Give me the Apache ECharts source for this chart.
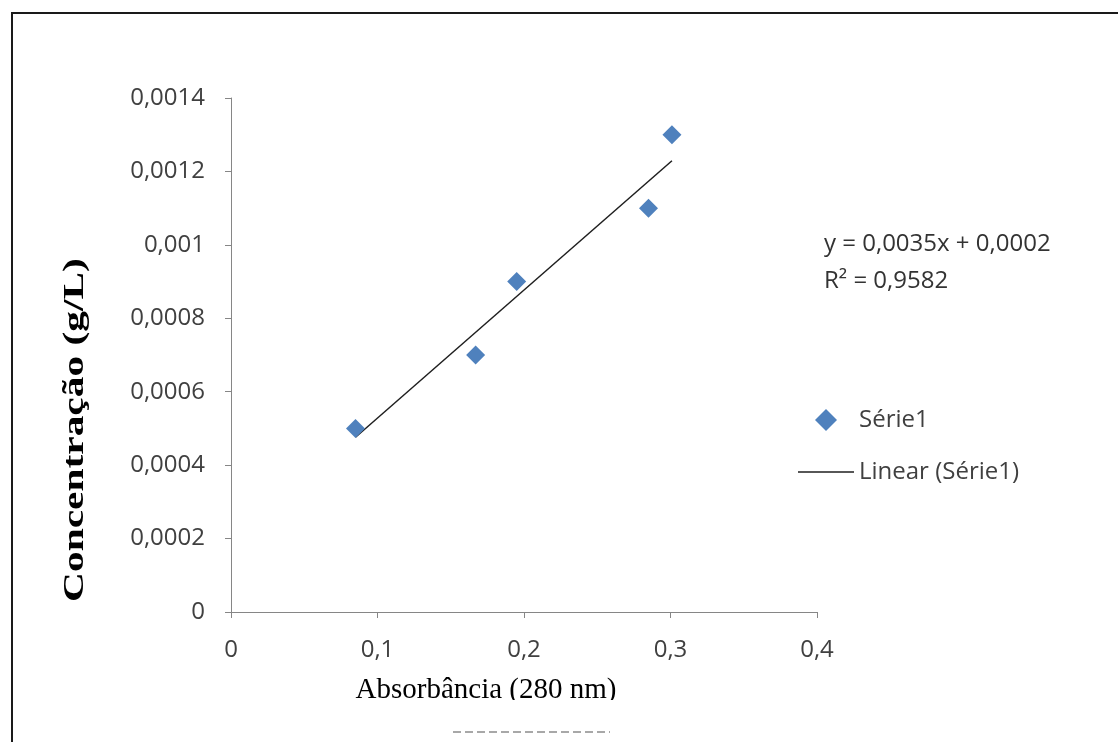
<!DOCTYPE html>
<html>
<head>
    <meta charset="UTF-8">
    <title>Concentração x Absorbância</title>
    <style>
        html, body { margin: 0; padding: 0; background: #fff; }
        #chart { width: 1118px; height: 742px; }
    </style>
</head>
<body>
<div id="chart"></div>
<script src="https://cdn.jsdelivr.net/npm/echarts@6/dist/echarts.min.js"></script>
<script>
    // dados
    var absorbancia = [0.085, 0.167, 0.195, 0.285, 0.301];
    var concentracao = [0.0005, 0.0007, 0.0009, 0.0011, 0.0013];
    var serieNome = 'Série1';
    var linearNome = 'Linear (Série1)';
    var equacao = ['y = 0,0035x + 0,0002', 'R² = 0,9582'];

    // pontos
    var pontos = absorbancia.map(function (x, i) { return [x, concentracao[i]]; });

    // linha de tendencia (minimos quadrados)
    var n = absorbancia.length, mx = 0, my = 0;
    for (var i = 0; i < n; i++) { mx += absorbancia[i]; my += concentracao[i]; }
    mx /= n; my /= n;
    var sxy = 0, sxx = 0;
    for (var i = 0; i < n; i++) {
        sxy += (absorbancia[i] - mx) * (concentracao[i] - my);
        sxx += (absorbancia[i] - mx) * (absorbancia[i] - mx);
    }
    var a = sxy / sxx, b = my - a * mx;
    var xmin = Math.min.apply(null, absorbancia), xmax = Math.max.apply(null, absorbancia);
    var tendencia = [[xmin, a * xmin + b], [xmax, a * xmax + b]];

    function virgula(v, casas) {
        var s = v.toFixed(casas);
        if (s.indexOf('.') >= 0) s = s.replace(/0+$/, '').replace(/\.$/, '');
        return s.replace('.', ',');
    }

    var fonte = '"Open Sans", "Noto Sans", sans-serif';
    var corEixo = '#868686';
    var corTexto = '#404040';
    var azul = '#4F81BD';
    var corLinha = '#1f1f1f';

    var myChart = echarts.init(document.getElementById('chart'));
    var option = {
        backgroundColor: '#fff',
        animation: false,
        grid: { left: 231, top: 98, width: 586, height: 514, outerBoundsMode: 'none' },
        xAxis: {
            type: 'value', min: 0, max: 0.4, interval: 0.1,
            axisLine: { show: true, lineStyle: { color: corEixo, width: 1 } },
            axisTick: { show: true, inside: false, length: 6, lineStyle: { color: corEixo } },
            splitLine: { show: false },
            axisLabel: {
                margin: 26, color: corTexto, fontSize: 24, fontFamily: fonte,
                formatter: function (v) { return virgula(v, 1); }
            }
        },
        yAxis: {
            type: 'value', min: 0, max: 0.0014, interval: 0.0002,
            axisLine: { show: true, lineStyle: { color: corEixo, width: 1 } },
            axisTick: { show: true, inside: false, length: 6, lineStyle: { color: corEixo } },
            splitLine: { show: false },
            axisLabel: {
                margin: 26, color: corTexto, fontSize: 24, fontFamily: fonte,
                formatter: function (v) { return virgula(v, 4); }
            }
        },
        legend: {
            orient: 'vertical',
            left: 793, top: 400,
            itemWidth: 56, itemHeight: 22, itemGap: 22,
            symbolKeepAspect: true,
            textStyle: { color: corTexto, fontSize: 24, fontFamily: fonte, lineHeight: 30 },
            data: [
                {
                    // losango centrado numa caixa larga (pontas de largura zero)
                    name: serieNome,
                    icon: 'path://M0 11L0 11M56 11L56 11M17 11L28 0L39 11L28 22Z',
                    itemStyle: { color: azul }
                },
                {
                    name: linearNome,
                    icon: 'path://M0 0L56 0L56 1.5L0 1.5Z',
                    itemStyle: { color: corLinha }
                }
            ]
        },
        series: [
            {
                name: serieNome, type: 'scatter',
                symbol: 'diamond', symbolSize: 19,
                itemStyle: { color: azul, opacity: 1 },
                data: pontos, z: 3
            },
            {
                name: linearNome, type: 'line',
                symbol: 'none',
                itemStyle: { color: corLinha },
                lineStyle: { color: corLinha, width: 1.5 },
                data: tendencia, z: 2
            }
        ],
        graphic: [
            // moldura (so topo e esquerda aparecem)
            {
                type: 'polyline', silent: true,
                shape: { points: [[12, 742], [12, 13], [1118, 13]] },
                style: { stroke: '#1a1a1a', lineWidth: 2, fill: null }
            },
            // titulo eixo y
            {
                type: 'text', x: 75, y: 430, rotation: Math.PI / 2, scaleX: 1.38,
                style: {
                    text: 'Concentração (g/L)', fill: '#000',
                    font: 'bold 30px "Liberation Serif", "Times New Roman", serif',
                    align: 'center', verticalAlign: 'middle'
                }
            },
            // titulo eixo x
            {
                type: 'text', x: 486, y: 690,
                style: {
                    text: 'Absorbância (280 nm)', fill: '#000',
                    font: '29px "Liberation Serif", "Times New Roman", serif',
                    align: 'center', verticalAlign: 'middle'
                }
            },
            // recorte branco embaixo do titulo
            {
                type: 'rect', silent: true, z: 10,
                shape: { x: 345, y: 700, width: 285, height: 20 },
                style: { fill: '#fff' }
            },
            {
                type: 'line', silent: true, z: 11,
                shape: { x1: 453, y1: 732, x2: 610, y2: 732 },
                style: { stroke: '#a8a8a8', lineWidth: 2, lineDash: [8, 4] }
            },
            // equacao da reta
            {
                type: 'text', x: 824, y: 244,
                style: {
                    text: equacao[0], fill: '#333',
                    font: '24px ' + fonte, align: 'left', verticalAlign: 'middle'
                }
            },
            {
                type: 'text', x: 824, y: 281,
                style: {
                    text: equacao[1], fill: '#333',
                    font: '24px ' + fonte, align: 'left', verticalAlign: 'middle'
                }
            }
        ]
    };
    myChart.setOption(option);
</script>
</body>
</html>
